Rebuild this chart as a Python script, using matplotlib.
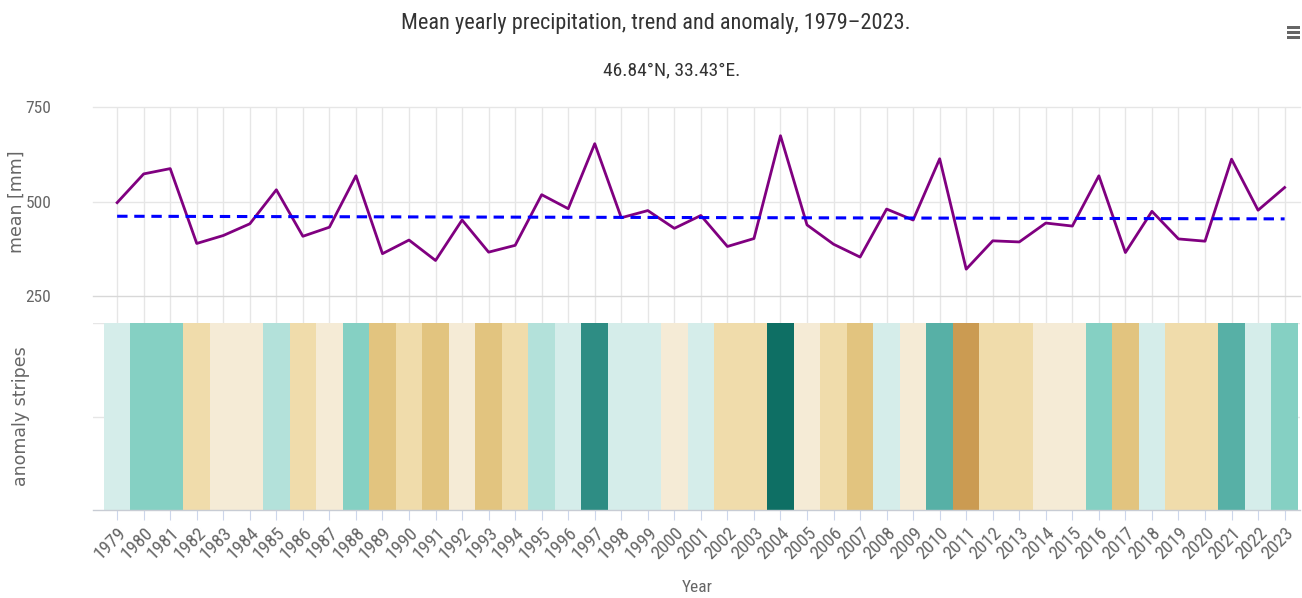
import matplotlib
matplotlib.use('Agg')
import matplotlib.pyplot as plt
from matplotlib import font_manager
from matplotlib.colors import ListedColormap, BoundaryNorm
from matplotlib.patches import Rectangle
import numpy as np

# ---------------- data ----------------
years = list(range(1979, 2024))
precip = [497, 573, 587, 389, 410, 441, 531, 408, 432, 568,
          362, 398, 344, 451, 366, 384, 518, 481, 653, 457,
          476, 429, 463, 381, 402, 674, 438, 387, 353, 480,
          451, 613, 321, 396, 393, 443, 435, 568, 365, 474,
          401, 395, 612, 477, 537]
trend_years = [1979, 2023]
trend_values = [461, 454]
y_ticks = [250, 500, 750]

# anomaly colour classes (precipitation boundaries -> colours)
class_bounds = [0, 340, 376, 409, 454, 510, 534, 600, 640, 665, 1000]
class_colors = ['#cb9b52', '#e2c47f', '#f0dcab', '#f5ebd6', '#d5edea',
                '#b3e1da', '#85d0c3', '#57b0a6', '#2e8d84', '#0e6f64']

title = "Mean yearly precipitation, trend and anomaly, 1979\u20132023."
subtitle = "46.84\u00b0N, 33.43\u00b0E."

# ---------------- fonts ----------------
names = {f.name for f in font_manager.fontManager.ttflist}
narrow = None
for cand in ['Roboto Condensed', 'Liberation Sans Narrow', 'DejaVu Sans Condensed', 'Open Sans Condensed']:
    if cand in names:
        narrow = cand
        break
if narrow is None:
    narrow = 'DejaVu Sans'

W, H = 1302, 598
fig = plt.figure(figsize=(W / 100, H / 100), dpi=100)
fig.patch.set_facecolor('white')

def fx(px):
    return px / W

def fy(py):
    return 1 - py / H

left, right = fx(93), fx(1300)
top_u, bot_u = fy(107), fy(296)
top_l, bot_l = fy(323), fy(510)
xlim = (1978.09, 2023.58)

grid_c = '#e6e6e6'
text_c = '#666666'

# background axes for vertical grid across whole plot area
bg = fig.add_axes([left, bot_l, right - left, top_u - bot_l])
bg.set_xlim(xlim)
bg.set_ylim(0, 1)
for y in years:
    bg.axvline(y, color=grid_c, lw=1.0, zorder=0)
bg.axis('off')
bg.set_zorder(0)

# upper axes
ax = fig.add_axes([left, bot_u, right - left, top_u - bot_u])
ax.set_zorder(2)
ax.patch.set_alpha(0)
ax.set_xlim(xlim)
ax.set_ylim(250, 750)
ax.set_yticks(y_ticks)
for yv in y_ticks:
    ax.axhline(yv, color=('#d8d8d8' if yv == 250 else grid_c), lw=1.0, zorder=1, clip_on=False)
ax.plot(years, precip, color='#800080', lw=2.0, zorder=3)
ax.plot(trend_years, trend_values, color='#0000ff', lw=2.2, dashes=(3.4, 2.2), zorder=4)
for s in ax.spines.values():
    s.set_visible(False)
ax.set_xticks([])
ax.tick_params(axis='y', length=0, pad=30, labelcolor=text_c, labelsize=12.5)
for lab in ax.get_yticklabels():
    lab.set_fontfamily(narrow)
ax.set_ylabel('mean [mm]', color=text_c, fontsize=12.5, fontfamily='DejaVu Sans')
ax.yaxis.set_label_coords(-0.0555, 0.5)

# lower axes (stripes)
ax2 = fig.add_axes([left, bot_l, right - left, top_l - bot_l])
ax2.set_zorder(2)
ax2.patch.set_alpha(0)
ax2.set_xlim(xlim)
ax2.set_ylim(0, 1)
for yv in [0.5, 1.0]:
    ax2.axhline(yv, color=grid_c, lw=1.0, zorder=0)
cmap = ListedColormap(class_colors)
norm = BoundaryNorm(class_bounds, cmap.N)
ax2.bar(years, [1] * len(years), width=1.0, color=cmap(norm(precip)), linewidth=0, zorder=2)
for s in ['top', 'right', 'left']:
    ax2.spines[s].set_visible(False)
ax2.spines['bottom'].set_color('#c8ccd4')
ax2.spines['bottom'].set_linewidth(1.0)
ax2.set_yticks([])
ax2.set_xticks(years)
ax2.set_xticklabels([str(y) for y in years], rotation=45, ha='right', rotation_mode='anchor',
                    fontfamily=narrow, fontsize=13.5, color=text_c)
ax2.tick_params(axis='x', length=7, color='#ccd6eb', pad=3)
ax2.set_ylabel('anomaly stripes', color=text_c, fontsize=12.5, fontfamily='DejaVu Sans')
ax2.yaxis.set_label_coords(-0.0525, 0.5)

# x axis title
fig.text(fx(697), fy(587), 'Year', ha='center', va='center', fontsize=12.5, color=text_c, fontfamily=narrow)

# titles
fig.text(fx(656), fy(23), title, ha='center', va='center', fontsize=16, color='#333333', fontfamily=narrow)
fig.text(fx(672), fy(70), subtitle, ha='center', va='center', fontsize=14, color='#333333', fontfamily=narrow)

# menu icon
for yy in [27, 32, 37]:
    fig.add_artist(Rectangle((fx(1287), fy(yy + 1.5)), fx(13), 3 / H, transform=fig.transFigure,
                             color='#666666', lw=0))

fig.savefig('out.png', dpi=100, facecolor='white')
